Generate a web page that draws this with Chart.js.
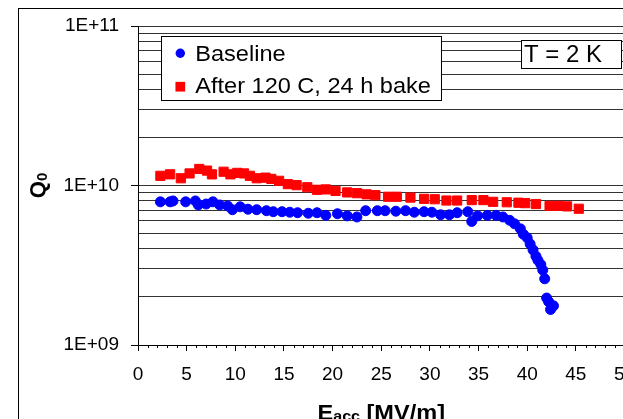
<!DOCTYPE html>
<html lang="en">
<head>
<meta charset="UTF-8">
<title>Q0 vs Eacc</title>
<script src="https://cdn.jsdelivr.net/npm/chart.js"></script>
<style>
  html, body { margin: 0; padding: 0; background: #fff; overflow: hidden; }
  #wrap { position: absolute; left: 0; top: 0; width: 680px; height: 460px; }
</style>
</head>
<body>
<div id="wrap"><canvas id="q0Chart" width="680" height="460"></canvas></div>
<script>
// Eacc [MV/m] and Q0 for each measurement run
const baselineField = [2.3, 3.3, 3.6, 4.9, 5.9, 6.2, 7.0, 7.7, 8.4, 9.2, 9.7, 10.5, 11.3, 12.2, 13.2, 13.9,
  14.8, 15.6, 16.4, 17.5, 18.4, 19.3, 20.5, 21.5, 22.5, 23.4, 24.6, 25.4, 26.5, 27.5, 28.4, 29.4, 30.2,
  31.1, 32.0, 32.8, 33.9, 34.3, 34.9, 35.9, 36.8, 37.5, 38.2, 38.7, 39.3, 39.6, 40.0, 40.3, 40.6, 40.9,
  41.1, 41.4, 41.6, 41.8, 42.0, 42.2, 42.7, 42.4];
const baselineQ0 = [7.9e9, 7.9e9, 8.0e9, 7.9e9, 8.0e9, 7.55e9, 7.65e9, 7.9e9, 7.55e9, 7.45e9, 7.05e9, 7.35e9,
  7.1e9, 7.05e9, 6.95e9, 6.85e9, 6.85e9, 6.8e9, 6.75e9, 6.7e9, 6.75e9, 6.5e9, 6.65e9, 6.45e9, 6.35e9,
  6.95e9, 6.95e9, 6.95e9, 6.9e9, 6.95e9, 6.8e9, 6.85e9, 6.8e9, 6.55e9, 6.55e9, 6.75e9, 6.85e9, 5.95e9,
  6.45e9, 6.5e9, 6.5e9, 6.35e9, 6.05e9, 5.75e9, 5.35e9, 4.95e9, 4.7e9, 4.3e9, 3.95e9, 3.6e9, 3.4e9,
  3.2e9, 2.95e9, 2.6e9, 1.97e9, 1.87e9, 1.76e9, 1.67e9];

const bakedField = [2.3, 3.3, 4.4, 5.3, 6.3, 7.1, 7.6, 8.8, 9.5, 10.2, 10.9, 11.5, 12.2, 13.1, 13.7, 14.5,
  15.4, 16.3, 17.4, 18.4, 19.3, 20.3, 21.5, 22.5, 23.5, 24.4, 25.7, 26.6, 28.0, 29.4, 30.5, 31.7, 32.8,
  34.3, 35.5, 36.5, 37.9, 39.1, 39.8, 40.9, 42.3, 43.2, 44.1, 45.3];
const bakedQ0 = [1.15e10, 1.175e10, 1.11e10, 1.19e10, 1.27e10, 1.24e10, 1.175e10, 1.22e10, 1.175e10, 1.2e10,
  1.19e10, 1.15e10, 1.11e10, 1.12e10, 1.1e10, 1.07e10, 1.02e10, 1.005e10, 9.75e9, 9.4e9, 9.45e9, 9.25e9,
  9.05e9, 8.95e9, 8.8e9, 8.7e9, 8.5e9, 8.5e9, 8.4e9, 8.25e9, 8.2e9, 8.05e9, 8.05e9, 8.1e9, 8.1e9, 7.9e9,
  7.85e9, 7.8e9, 7.75e9, 7.65e9, 7.45e9, 7.45e9, 7.4e9, 7.15e9];

const seriesLabels = ['Baseline', 'After 120 C, 24 h bake'];
const tempNote = 'T = 2 K';

// axes
const xMin = 0, xMax = 50, xMajorStep = 5, xMinorStep = 1;
const yDecades = [1e9, 1e10, 1e11];
const yMantissas = [1, 2, 3, 4, 5, 6, 7, 8, 9];

const FONT = '"Liberation Sans", Arial, Helvetica, sans-serif';
Chart.defaults.font.family = FONT;
Chart.defaults.color = '#000';

const yGridValues = [];
yDecades.forEach((d, i) => {
  if (i === yDecades.length - 1) { yGridValues.push(d); return; }
  yMantissas.forEach(m => yGridValues.push(m * d));
});
const isDecade = v => yDecades.includes(v);
const sciLabel = v => {
  const e = Math.round(Math.log10(v));
  return '1E+' + String(e).padStart(2, '0');
};

function toPoints(xs, ys) {
  return xs.map((x, i) => ({ x: x, y: ys[i] }));
}

// text drawn a little wider than the font's own metrics
const WIDEN = 1.07;
function wideText(ctx, text, x, y) {
  ctx.save();
  ctx.translate(x, y);
  ctx.scale(WIDEN, 1);
  ctx.fillText(text, 0, 0);
  ctx.restore();
  return ctx.measureText(text).width * WIDEN;
}

// frame, minor ticks, legend, note box and axis titles
const decor = {
  id: 'decor',
  afterDraw(chart) {
    const ctx = chart.ctx;
    const xs = chart.scales.x;
    const area = chart.chartArea;
    ctx.save();

    ctx.strokeStyle = '#000';
    ctx.lineWidth = 1;
    ctx.beginPath();
    for (let v = xMin; v <= xMax; v += xMinorStep) {
      if (v % xMajorStep === 0) continue;
      const px = Math.round(xs.getPixelForValue(v)) + 0.5;
      ctx.moveTo(px, area.bottom);
      ctx.lineTo(px, area.bottom + 3);
    }
    ctx.stroke();

    // outer frame
    ctx.strokeRect(18.5, 8.5, 700, 500);

    // legend
    ctx.fillStyle = '#fff';
    ctx.fillRect(161.5, 36.5, 280, 64);
    ctx.strokeRect(161.5, 36.5, 280, 64);
    const ds = chart.data.datasets;
    ctx.fillStyle = ds[0].backgroundColor;
    ctx.beginPath();
    ctx.arc(180.3, 53.3, 4.7, 0, Math.PI * 2);
    ctx.fill();
    ctx.fillStyle = ds[1].backgroundColor;
    ctx.fillRect(180.3 - 4.85, 86.7 - 4.85, 9.7, 9.7);
    ctx.fillStyle = '#000';
    ctx.font = '22px ' + FONT;
    ctx.textBaseline = 'alphabetic';
    ctx.textAlign = 'left';
    wideText(ctx, ds[0].label, 195.3, 60.7);
    wideText(ctx, ds[1].label, 195.3, 92.7);

    // temperature note
    ctx.fillStyle = '#fff';
    ctx.fillRect(521.5, 40.5, 100, 28);
    ctx.strokeRect(521.5, 40.5, 100, 28);
    ctx.fillStyle = '#000';
    ctx.font = '24px ' + FONT;
    ctx.fillText(tempNote, 524, 62);

    // x title: E_acc [MV/m]
    const big = 'bold 22px ' + FONT, small = 'bold 15px ' + FONT;
    ctx.font = big;
    const wE = ctx.measureText('E').width * WIDEN;
    const wRest = ctx.measureText(' [MV/m]').width * WIDEN;
    ctx.font = small;
    const wSub = ctx.measureText('acc').width * WIDEN;
    const tx = (area.left + area.right) / 2 - (wE + wSub + wRest) / 2;
    const ty = 419.8;
    ctx.font = big;
    wideText(ctx, 'E', tx, ty);
    ctx.font = small;
    wideText(ctx, 'acc', tx + wE, ty + 1.5);
    ctx.font = big;
    wideText(ctx, ' [MV/m]', tx + wE + wSub, ty);

    // y title: Q_0
    ctx.translate(45, (area.top + area.bottom) / 2);
    ctx.rotate(-Math.PI / 2);
    ctx.font = big;
    const wQ = ctx.measureText('Q').width;
    ctx.font = small;
    const w0 = ctx.measureText('0').width;
    const qx = -(wQ + w0) / 2;
    ctx.font = big;
    ctx.fillText('Q', qx, 0);
    ctx.font = small;
    ctx.fillText('0', qx + wQ, 2);

    ctx.restore();
  }
};

new Chart(document.getElementById('q0Chart'), {
  type: 'scatter',
  data: {
    datasets: [{
      label: seriesLabels[0],
      data: toPoints(baselineField, baselineQ0),
      pointStyle: 'circle',
      pointRadius: 5,
      borderWidth: 1,
      backgroundColor: '#0000ff',
      borderColor: '#0000ff'
    }, {
      label: seriesLabels[1],
      data: toPoints(bakedField, bakedQ0),
      pointStyle: 'rect',
      pointRadius: 6.5,
      borderWidth: 1,
      backgroundColor: '#ff0000',
      borderColor: '#ff0000'
    }]
  },
  options: {
    responsive: false,
    animation: false,
    devicePixelRatio: 1,
    events: [],
    layout: { padding: { left: 0, top: 26, right: 55.5, bottom: 0 } },
    plugins: { legend: { display: false }, tooltip: { enabled: false } },
    scales: {
      x: {
        type: 'linear',
        min: xMin,
        max: xMax,
        afterFit: s => { s.height = 115; },
        border: { color: '#000', width: 1 },
        grid: { drawOnChartArea: false, drawTicks: true, tickLength: 6, tickColor: '#000' },
        ticks: {
          stepSize: xMajorStep,
          autoSkip: false,
          maxRotation: 0,
          padding: 12,
          font: { size: 19 },
          color: '#000'
        }
      },
      y: {
        type: 'logarithmic',
        min: yDecades[0],
        max: yDecades[yDecades.length - 1],
        afterFit: s => { s.width = 138; },
        afterBuildTicks: s => {
          s.ticks = yGridValues.map(v => ({ value: v, major: isDecade(v) }));
        },
        border: { color: '#000', width: 1 },
        grid: {
          color: '#333',
          lineWidth: 1,
          tickLength: 7,
          tickColor: c => (c.tick && isDecade(c.tick.value)) ? '#000' : 'rgba(0,0,0,0)'
        },
        ticks: {
          autoSkip: false,
          padding: 12,
          font: { size: 19 },
          color: '#000',
          callback: v => isDecade(v) ? sciLabel(v) : ''
        }
      }
    }
  },
  plugins: [decor]
});
</script>
</body>
</html>
